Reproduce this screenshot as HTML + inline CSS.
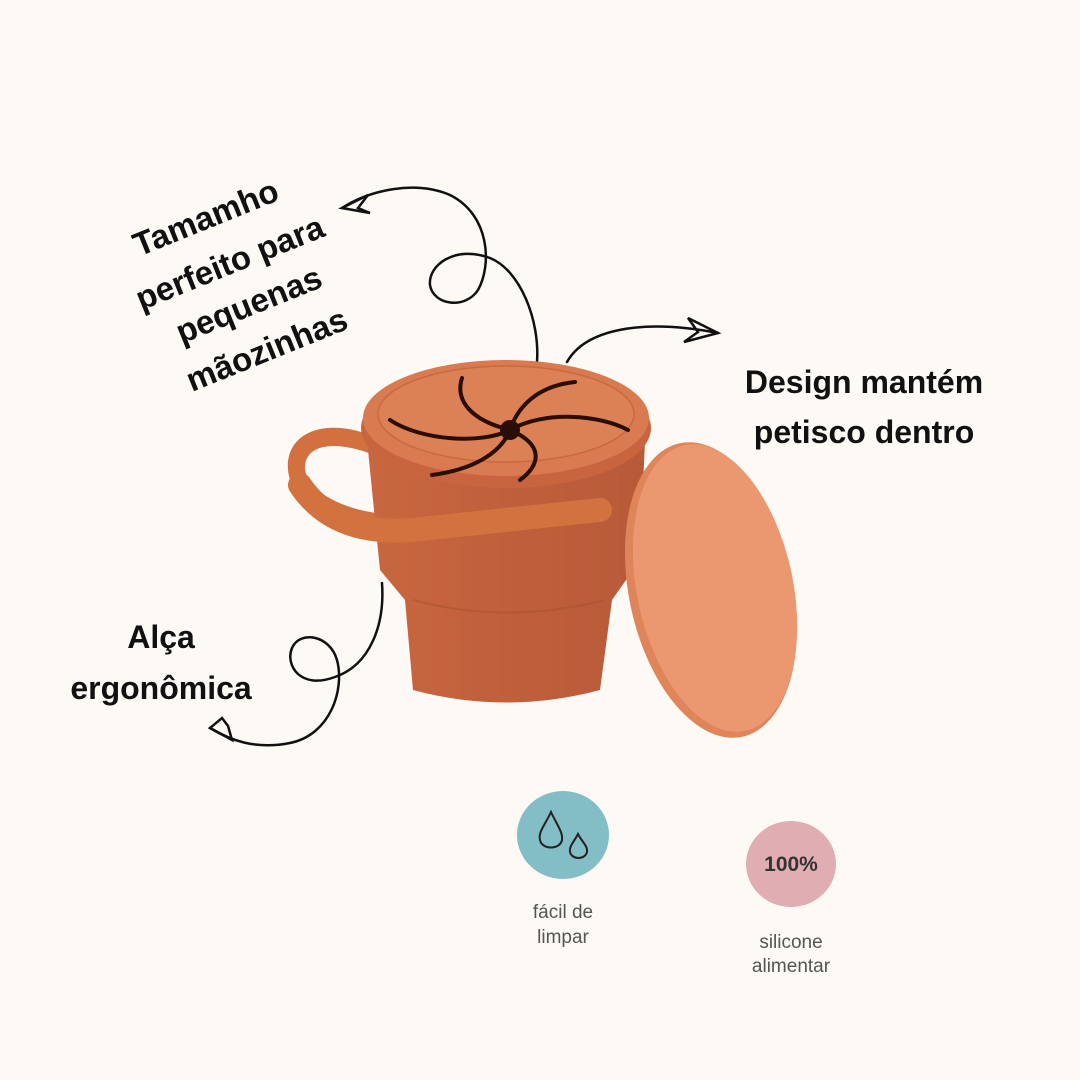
<!DOCTYPE html>
<html><head><meta charset="utf-8"><style>
html,body{margin:0;padding:0;background:#fdf9f5}
svg{display:block}
text{font-family:"Liberation Sans",sans-serif}
</style></head><body>
<svg width="1080" height="1080" viewBox="0 0 1080 1080" xmlns="http://www.w3.org/2000/svg">
<rect width="1080" height="1080" fill="#fdf9f5"/>
<defs>
<linearGradient id="body" x1="0" x2="1" y1="0" y2="0">
<stop offset="0" stop-color="#c8673f"/><stop offset="0.5" stop-color="#c05f3c"/><stop offset="1" stop-color="#b85a38"/>
</linearGradient>
</defs>
<g fill="none" stroke="#111" stroke-width="2.5" stroke-linecap="round">
<path d="M537,362 C540,320 520,270 490,258 C455,245 428,265 430,285 C433,305 465,310 478,290 C492,265 490,215 450,195 C415,180 370,190 342,208"/>
<path d="M342,208 L368,195 L358,208 L370,213 Z"/>
<path d="M567,362 C585,330 640,318 718,333"/>
<path d="M718,333 L688,318 L698,332 L684,342 Z"/>
<path d="M382,583 C385,625 370,665 335,677 C300,690 285,665 292,648 C300,630 330,635 337,660 C345,690 330,735 290,743 C255,750 230,740 210,728"/>
<path d="M210,728 L232,740 L228,726 L222,718 Z"/>
</g>
<path d="M382,440 C330,415 285,430 288,470 C292,510 345,540 430,535 L520,525 L600,515 L600,500 L520,508 L430,515 C355,520 310,495 305,470 C303,440 345,440 385,460 Z" fill="#d2713f"/>
<path d="M367,440 L645,440 L640,560 L612,600 L600,690 Q506,715 413,690 L405,600 L380,570 Z" fill="url(#body)"/>
<path d="M413,600 Q506,625 605,600" stroke="#a9502f" stroke-width="2" fill="none" opacity=".5"/>
<path d="M300,485 C330,530 380,535 430,528 L600,510" stroke="#d2733f" stroke-width="24" fill="none" stroke-linecap="round"/>
<ellipse cx="506" cy="428" rx="145" ry="60" fill="#c8653e"/>
<ellipse cx="506" cy="418" rx="143" ry="58" fill="#d97a50"/>
<ellipse cx="506" cy="414" rx="128" ry="48" fill="#dc8055" stroke="#c9693f" stroke-width="1.5"/>
<g stroke="#2a0e06" stroke-width="4" fill="none" stroke-linecap="round">
<path d="M510,430 C470,420 455,400 462,378"/>
<path d="M510,430 C520,400 545,385 575,382"/>
<path d="M510,430 C545,410 600,415 628,430"/>
<path d="M510,430 C545,445 540,465 520,480"/>
<path d="M510,430 C500,455 470,470 432,475"/>
<path d="M510,430 C480,445 420,440 390,420"/>
</g>
<circle cx="510" cy="430" r="10" fill="#2a0e06"/>
<ellipse cx="711" cy="590" rx="82" ry="150" transform="rotate(-12 711 590)" fill="#e0845a"/>
<ellipse cx="715" cy="588" rx="78" ry="146" transform="rotate(-12 715 588)" fill="#eb9870"/>
<g font-weight="bold" font-size="33" fill="#111" text-anchor="middle">
<text x="210" y="228" transform="rotate(-22 210 228)">Tamamho</text>
<text x="234" y="273" transform="rotate(-22 234 273)">perfeito para</text>
<text x="253" y="315" transform="rotate(-22 253 315)">pequenas</text>
<text x="271" y="360" transform="rotate(-22 271 360)">mãozinhas</text>
<text x="864" y="393" font-size="32">Design mantém</text>
<text x="864" y="443" font-size="32">petisco dentro</text>
<text x="161" y="648" font-size="32">Alça</text>
<text x="161" y="699" font-size="32">ergonômica</text>
</g>
<ellipse cx="563" cy="835" rx="46" ry="44" fill="#83bdc6"/>
<g fill="none" stroke="#222" stroke-width="2">
<path d="M551,812 C545,825 538,832 540,840 C542,850 560,850 562,840 C563,832 557,825 551,812 Z"/>
<path d="M578,834 C574,842 569,846 570,852 C572,860 585,860 587,852 C588,846 582,842 578,834 Z"/>
</g>
<text x="563" y="918" font-size="19" fill="#555" text-anchor="middle">fácil de</text>
<text x="563" y="943" font-size="19" fill="#555" text-anchor="middle">limpar</text>
<ellipse cx="791" cy="864" rx="45" ry="43" fill="#e0adb2"/>
<text x="791" y="871" font-size="21" font-weight="bold" fill="#333" text-anchor="middle">100%</text>
<text x="791" y="948" font-size="19" fill="#555" text-anchor="middle">silicone</text>
<text x="791" y="972" font-size="19" fill="#555" text-anchor="middle">alimentar</text>
</svg>
</body></html>
